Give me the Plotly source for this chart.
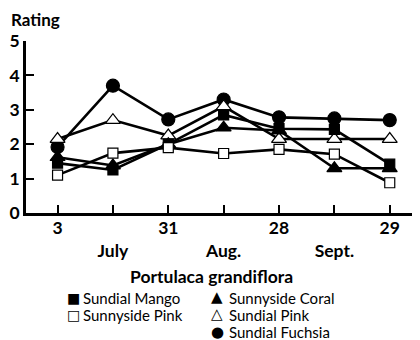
import plotly.graph_objects as go

x_pos = [0, 1, 2, 3, 4, 5, 6]
tick_text = ["3", "<br>July", "31", "<br>Aug.", "28", "<br>Sept.", "29"]

sundial_mango = [1.45, 1.25, 2.0, 2.85, 2.45, 2.43, 1.42]
sunnyside_coral = [1.62, 1.38, 2.0, 2.48, 2.4, 1.3, 1.3]
sunnyside_pink = [1.1, 1.74, 1.9, 1.73, 1.85, 1.71, 0.88]
sundial_pink = [2.15, 2.7, 2.25, 3.1, 2.15, 2.15, 2.15]
sundial_fuchsia = [1.92, 3.7, 2.72, 3.3, 2.78, 2.75, 2.7]

series = [
    ("Sundial Fuchsia", sundial_fuchsia, "circle", "black", 13),
    ("Sundial Pink", sundial_pink, "triangle-up", "white", 13),
    ("Sunnyside Coral", sunnyside_coral, "triangle-up", "black", 13),
    ("Sundial Mango", sundial_mango, "square", "black", 10),
    ("Sunnyside Pink", sunnyside_pink, "square", "white", 10),
]

FONT = "Lato"
OFF = 8  # page body margin offset
W, H = 420 - OFF, 340 - OFF
L, R, T, B = 26 - OFF, 7, 41 - OFF, 127

fig = go.Figure()
for name, vals, sym, fill, sz in series:
    fig.add_trace(go.Scatter(
        x=x_pos, y=vals, name=name, mode="lines+markers",
        line=dict(color="black", width=2.6),
        marker=dict(symbol=sym, size=sz, color=fill,
                    line=dict(color="black", width=1.2)),
        showlegend=False, cliponaxis=False,
    ))

fig.update_layout(
    width=W, height=H,
    margin=dict(l=L, r=R, t=T, b=B),
    paper_bgcolor="white", plot_bgcolor="white",
    font=dict(family=FONT, color="black"),
    xaxis=dict(
        range=[-0.57, 6.42], tickvals=x_pos, ticktext=tick_text,
        ticks="inside", ticklen=8, tickwidth=2, tickcolor="black",
        showline=True, linecolor="black", linewidth=2.5,
        showgrid=False, zeroline=False, automargin=False,
        ticklabelstandoff=-3,
        tickfont=dict(family=FONT, size=17.5, color="black", weight="bold"),
    ),
    yaxis=dict(
        range=[0, 5], tickvals=[0, 1, 2, 3, 4, 5],
        ticks="inside", ticklen=8, tickwidth=2, tickcolor="black",
        showline=True, linecolor="black", linewidth=2.5,
        showgrid=False, zeroline=False, automargin=False,
        tickfont=dict(family=FONT, size=17.5, color="black", weight="bold"),
    ),
)

plot_w = W - L - R
plot_h = H - T - B

def px(x, y):
    # page pixel -> paper coords
    return (x - OFF - L) / plot_w, (H - B - (y - OFF)) / plot_h

texts = [
    ("<b>Rating</b>", 9, 19, 17, "left", FONT),
    ("<b>Portulaca grandiflora</b>", 211, 276, 17.5, "center", FONT),
    ("Sundial Mango", 81, 298, 15, "left", FONT),
    ("Sunnyside Pink", 81, 315, 15, "left", FONT),
    ("Sunnyside Coral", 227, 298, 15, "left", FONT),
    ("Sundial Pink", 227, 315, 15, "left", FONT),
    ("Sundial Fuchsia", 227, 332, 15, "left", FONT),
    ("■", 73, 298, 14, "center", "DejaVu Sans"),
    ("□", 73, 315, 14, "center", "DejaVu Sans"),
    ("▲", 217, 297, 15, "center", "DejaVu Sans"),
    ("△", 217, 314, 15, "center", "DejaVu Sans"),
    ("●", 217, 332, 15, "center", "DejaVu Sans"),
]
anns = []
for t, x, y, s, xa, f in texts:
    ax, ay = px(x, y)
    anns.append(dict(
        text=t, xref="paper", yref="paper", x=ax, y=ay,
        xanchor=xa, yanchor="middle", showarrow=False,
        font=dict(family=f, size=s, color="black"),
    ))
fig.update_layout(annotations=anns)

fig.write_html("out.html")
